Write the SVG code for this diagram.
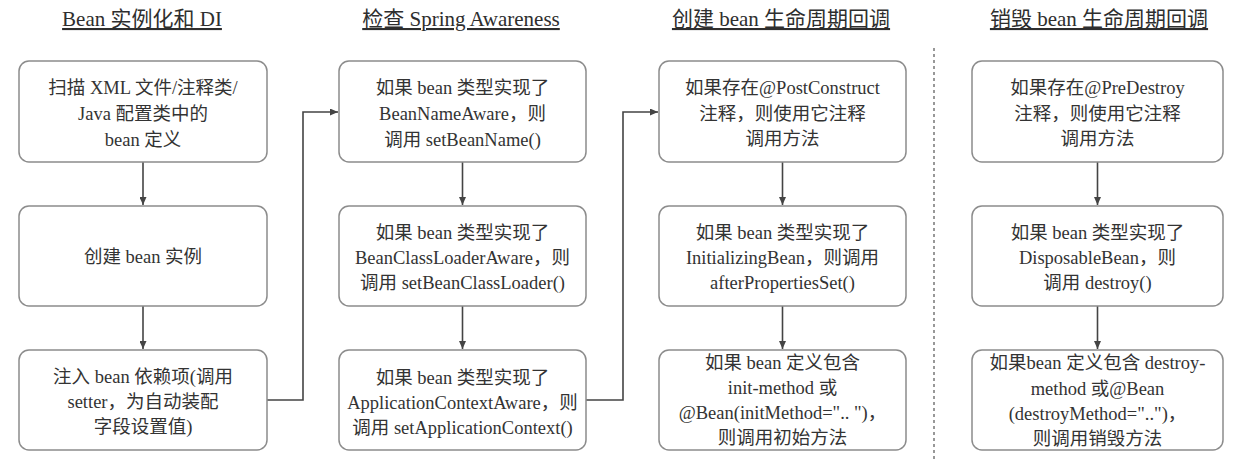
<svg xmlns="http://www.w3.org/2000/svg" width="1240" height="464" viewBox="0 0 1240 464">
<style>
  .hdr { font-family: "Liberation Serif", "Noto Sans CJK SC", serif; font-size: 21px; fill: #2e2e2e; text-anchor: middle; text-decoration: underline; }
  .box { fill: #ffffff; stroke: #8c8c8c; stroke-width: 1.5; }
  .t { font-family: "Liberation Serif", "Noto Sans CJK SC", serif; font-size: 18.5px; fill: #333333; text-anchor: middle; }
  .conn { fill: none; stroke: #444444; stroke-width: 1.6; marker-end: url(#arrow); }
  .divider { stroke: #777777; stroke-width: 1.5; stroke-dasharray: 3 3; }
</style>
<defs>
  <marker id="arrow" viewBox="0 0 8 7" refX="8" refY="3.5" markerWidth="8" markerHeight="7" markerUnits="userSpaceOnUse" orient="auto">
    <path d="M0,0 L8,3.5 L0,7 z" fill="#444444"/>
  </marker>
</defs>
<rect width="1240" height="464" fill="#ffffff"/>

<g id="headers">
  <text class="hdr" x="142" y="26">Bean 实例化和 DI</text>
  <text class="hdr" x="461" y="26">检查 Spring Awareness</text>
  <text class="hdr" x="781" y="26">创建 bean 生命周期回调</text>
  <text class="hdr" x="1099" y="26">销毁 bean 生命周期回调</text>
</g>

<line id="divider" class="divider" x1="934" y1="48" x2="934" y2="460"/>

<g id="connectors">
  <path class="conn" d="M143,162 V205"/>
  <path class="conn" d="M143,306 V349"/>
  <path class="conn" d="M267,400 H303 V112 H338"/>
  <path class="conn" d="M462.5,162 V205"/>
  <path class="conn" d="M462.5,306 V349"/>
  <path class="conn" d="M586,400 H623 V112 H658"/>
  <path class="conn" d="M782.5,162 V205"/>
  <path class="conn" d="M782.5,306 V349"/>
  <path class="conn" d="M1097.5,162 V205"/>
  <path class="conn" d="M1097.5,306 V349"/>
</g>

<g id="n1-scan">
  <rect class="box" x="19" y="61" width="248" height="101" rx="10"/>
  <text class="t" x="143" y="94">扫描 XML 文件/注释类/</text>
  <text class="t" x="143" y="120">Java 配置类中的</text>
  <text class="t" x="143" y="146">bean 定义</text>
</g>
<g id="n1-create">
  <rect class="box" x="19" y="206" width="248" height="100" rx="10"/>
  <text class="t" x="143" y="263">创建 bean 实例</text>
</g>
<g id="n1-inject">
  <rect class="box" x="19" y="350" width="248" height="100" rx="10"/>
  <text class="t" x="143" y="383">注入 bean 依赖项(调用</text>
  <text class="t" x="143" y="408">setter，为自动装配</text>
  <text class="t" x="143" y="433">字段设置值)</text>
</g>

<g id="n2-beanname">
  <rect class="box" x="339" y="61" width="247" height="101" rx="10"/>
  <text class="t" x="462.5" y="94">如果 bean 类型实现了</text>
  <text class="t" x="462.5" y="120">BeanNameAware，则</text>
  <text class="t" x="462.5" y="146">调用 setBeanName()</text>
</g>
<g id="n2-classloader">
  <rect class="box" x="339" y="206" width="247" height="100" rx="10"/>
  <text class="t" x="462.5" y="239">如果 bean 类型实现了</text>
  <text class="t" x="462.5" y="264">BeanClassLoaderAware，则</text>
  <text class="t" x="462.5" y="289">调用 setBeanClassLoader()</text>
</g>
<g id="n2-appctx">
  <rect class="box" x="339" y="350" width="247" height="100" rx="10"/>
  <text class="t" x="462.5" y="384">如果 bean 类型实现了</text>
  <text class="t" x="462.5" y="409">ApplicationContextAware，则</text>
  <text class="t" x="462.5" y="434">调用 setApplicationContext()</text>
</g>

<g id="n3-postconstruct">
  <rect class="box" x="659" y="61" width="247" height="101" rx="10"/>
  <text class="t" x="782.5" y="94">如果存在@PostConstruct</text>
  <text class="t" x="782.5" y="120">注释，则使用它注释</text>
  <text class="t" x="782.5" y="145">调用方法</text>
</g>
<g id="n3-initializing">
  <rect class="box" x="659" y="206" width="247" height="100" rx="10"/>
  <text class="t" x="782.5" y="239">如果 bean 类型实现了</text>
  <text class="t" x="782.5" y="264">InitializingBean，则调用</text>
  <text class="t" x="782.5" y="289">afterPropertiesSet()</text>
</g>
<g id="n3-initmethod">
  <rect class="box" x="659" y="350" width="247" height="100" rx="10"/>
  <text class="t" x="782.5" y="369">如果 bean 定义包含</text>
  <text class="t" x="782.5" y="394">init-method 或</text>
  <text class="t" x="782.5" y="419">@Bean(initMethod=".. ")，</text>
  <text class="t" x="782.5" y="444">则调用初始方法</text>
</g>

<g id="n4-predestroy">
  <rect class="box" x="972" y="61" width="251" height="101" rx="10"/>
  <text class="t" x="1097.5" y="94">如果存在@PreDestroy</text>
  <text class="t" x="1097.5" y="120">注释，则使用它注释</text>
  <text class="t" x="1097.5" y="145">调用方法</text>
</g>
<g id="n4-disposable">
  <rect class="box" x="972" y="206" width="251" height="100" rx="10"/>
  <text class="t" x="1097.5" y="239">如果 bean 类型实现了</text>
  <text class="t" x="1097.5" y="264">DisposableBean，则</text>
  <text class="t" x="1097.5" y="289">调用 destroy()</text>
</g>
<g id="n4-destroymethod">
  <rect class="box" x="972" y="350" width="251" height="100" rx="10"/>
  <text class="t" x="1097.5" y="369">如果bean 定义包含 destroy-</text>
  <text class="t" x="1097.5" y="395">method 或@Bean</text>
  <text class="t" x="1097.5" y="420">(destroyMethod="..")，</text>
  <text class="t" x="1097.5" y="445">则调用销毁方法</text>
</g>
</svg>
